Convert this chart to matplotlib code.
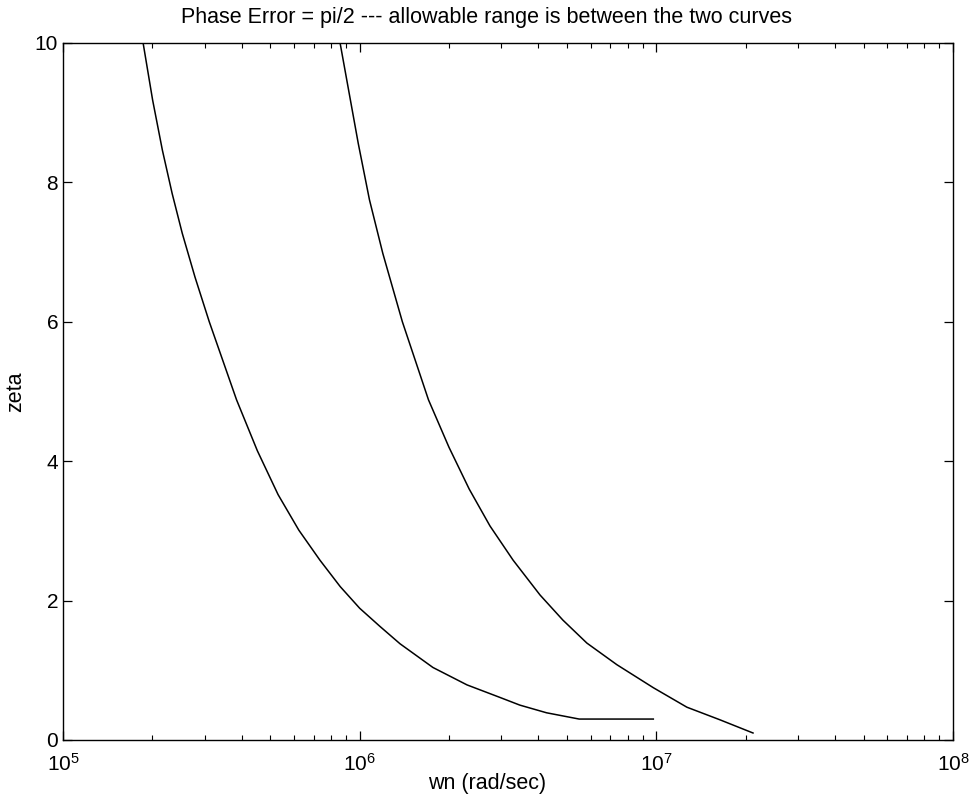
import numpy as np
import matplotlib
matplotlib.use("Agg")
import matplotlib.pyplot as plt
from matplotlib.ticker import LogLocator, FixedLocator, NullFormatter

plt.rcParams['font.family'] = ['Liberation Sans', 'DejaVu Sans']
plt.rcParams['mathtext.fontset'] = 'custom'
plt.rcParams['mathtext.rm'] = 'Liberation Sans'
plt.rcParams['mathtext.it'] = 'Liberation Sans:italic'

# lower bound curve
wn_low = [1.862e5, 2.005e5, 2.163e5, 2.333e5, 2.523e5, 2.786e5, 3.112e5, 3.846e5,
          4.519e5, 5.309e5, 6.237e5, 7.345e5, 8.6e5, 1.0e6, 1.17e6, 1.368e6,
          1.766e6, 2.301e6, 2.972e6, 3.467e6, 4.266e6, 5.495e6, 9.77e6]
zeta_low = [10.0, 9.18, 8.46, 7.84, 7.27, 6.64, 6.0, 4.88,
            4.15, 3.52, 3.01, 2.58, 2.20, 1.89, 1.63, 1.38,
            1.04, 0.79, 0.61, 0.50, 0.39, 0.30, 0.30]

# upper bound curve
wn_high = [8.59e5, 9.89e5, 1.079e6, 1.197e6, 1.393e6, 1.706e6, 2.0e6, 2.34e6,
           2.75e6, 3.29e6, 4.055e6, 4.842e6, 5.834e6, 7.362e6, 9.77e6, 1.268e7,
           1.637e7, 2.118e7]
zeta_high = [10.0, 8.56, 7.75, 6.98, 6.0, 4.88, 4.20, 3.60,
             3.07, 2.58, 2.08, 1.72, 1.39, 1.08, 0.75, 0.47,
             0.29, 0.10]

fig = plt.figure(figsize=(9.74, 8.08), dpi=100)
ax = fig.add_axes([0.0647, 0.0842, 0.9137, 0.8626])

ax.plot(wn_low, zeta_low, color='black', lw=1.1)
ax.plot(wn_high, zeta_high, color='black', lw=1.1)

ax.set_xscale('log')
ax.set_xlim(1e5, 1e8)
ax.set_ylim(0, 10)
ax.xaxis.set_major_locator(FixedLocator([1e5, 1e6, 1e7, 1e8]))
ax.set_xticklabels([r'$10^{5}$', r'$10^{6}$', r'$10^{7}$', r'$10^{8}$'])
ax.xaxis.set_minor_locator(LogLocator(base=10, subs=np.arange(2, 10), numticks=20))
ax.xaxis.set_minor_formatter(NullFormatter())
ax.set_yticks([0, 2, 4, 6, 8, 10])

ax.tick_params(which='major', direction='in', length=6.8, width=0.9,
               top=True, right=True, labelsize=15)
ax.tick_params(axis='x', which='major', pad=9)
ax.tick_params(axis='y', which='major', pad=3.5)
ax.tick_params(which='minor', direction='in', length=3.6, width=0.8,
               top=True, right=True)
for s in ax.spines.values():
    s.set_linewidth(1.0)

# title and x label sit a little left of the axes centre, as in the original
xc = 0.476
ax.set_title('Phase Error = pi/2 --- allowable range is between the two curves',
             fontsize=15.5, pad=14.5, x=xc)
ax.set_xlabel('wn (rad/sec)', fontsize=15.5, labelpad=6)
ax.xaxis.set_label_coords(xc, -0.062)
ax.xaxis.label.set_va('center')
ax.set_ylabel('zeta', fontsize=15.5, labelpad=6)

fig.savefig('out.png', dpi=100)
